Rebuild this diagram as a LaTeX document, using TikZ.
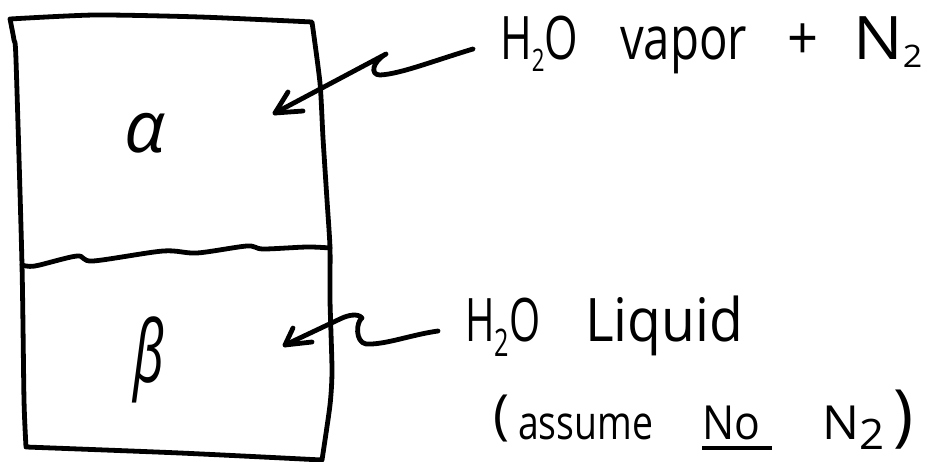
\documentclass[tikz,border=0pt]{standalone}
\usepackage{fontspec}
\usepackage{graphicx}
\setmainfont{Open Sans}
\usetikzlibrary{calc}
\newcommand\lowr[3]{\raisebox{-#2}{\fontsize{#1}{#1}\selectfont #3}}
\newcommand\wordat[3]{\rlap{\hspace*{#1}\resizebox{#2}{\height}{#3}}}
\newcommand\putat[2]{\rlap{\hspace*{#1}#2}}
\begin{document}
\begin{tikzpicture}[x=1pt,y=-1pt,
  ink/.style={draw=black,line width=4.8pt,line cap=round,line join=round},
  lbl/.style={inner sep=0pt,anchor=base west,font=\fontsize{60}{66}\selectfont},
  lblsmall/.style={inner sep=0pt,anchor=base west,font=\fontsize{47}{52}\selectfont},
  greek/.style={inner sep=0pt,anchor=center,font=\itshape}]
\useasboundingbox (0,0) rectangle (930,462);

% container outline
\draw[ink] plot[smooth,tension=0.4] coordinates {(10,19) (95,15) (200,17) (312,22)}
  -- plot[smooth,tension=0.4] coordinates {(312,22) (320,83) (323,138) (327,200) (330,248) (330,300) (332,370) (330,405) (322,460)}
  -- plot[smooth,tension=0.4] coordinates {(322,460) (180,453) (26,447)}
  -- plot[smooth,tension=0.4] coordinates {(26,447) (24,400) (22,265) (16,60) (14,40) (10,19)};

% phase boundary
\draw[ink] plot[smooth,tension=0.5] coordinates {(22,265) (35,266) (77,256) (93,261) (163,251) (197,253) (247,246) (263,249) (307,247) (330,248)};

% phase labels
\node[greek] (alpha) at (145,133) {\fontsize{72}{72}\selectfont α};
\node[greek] (beta) at (149,360) {\scalebox{0.62}[1]{\fontsize{86}{86}\selectfont β}};

% texts
\node[lbl] (vap) at (500,60) {%
  \wordat{0pt}{78pt}{H\lowr{31}{12pt}{2}O}%
  \wordat{120pt}{127pt}{vapor}%
  \wordat{287pt}{31pt}{+}%
  \wordat{353pt}{69pt}{N\lowr{31}{8pt}{2}}%
  \hspace*{422pt}};
\node[lbl] (liq) at (465,342) {%
  \wordat{0pt}{75pt}{H\lowr{38}{15pt}{2}O}%
  \wordat{120pt}{158pt}{Liquid}%
  \hspace*{278pt}};
\node[lblsmall] (assume) at (493,440) {%
  \putat{0pt}{\raisebox{6pt}{\fontsize{54}{54}\selectfont (}}%
  \wordat{25pt}{135pt}{assume}%
  \wordat{209pt}{58pt}{No}%
  \putat{209pt}{\rule[-10pt]{70pt}{3.6pt}}%
  \wordat{329pt}{62pt}{N\lowr{42}{10pt}{2}}%
  \putat{400pt}{\raisebox{1pt}{\fontsize{68}{68}\selectfont )}}%
  \hspace*{434pt}};

% upper arrow: vapour label into phase alpha
\coordinate (a1tip) at (275,113);
\coordinate (a1l) at (288,92);
\coordinate (a1r) at (303,111);
\draw[ink] ($(vap.base west)+(-27,-11)$) .. controls (430,62) and (400,74) .. (380,75)
  .. controls (370,75) and (372,62) .. (386,54) -- (a1tip);
\draw[ink] (a1l) -- (a1tip) -- (a1r);

% lower arrow: liquid label into phase beta
\coordinate (a2tip) at (285,345);
\coordinate (a2l) at (293,328);
\coordinate (a2r) at (312,342);
\draw[ink] ($(liq.base west)+(-27,-11)$) .. controls (410,335) and (385,345) .. (366,344)
  .. controls (355,342) and (356,322) .. (362,318)
  .. controls (358,313) and (348,315) .. (340,319) -- (a2tip);
\draw[ink] (a2l) -- (a2tip) -- (a2r);
\end{tikzpicture}
\end{document}
